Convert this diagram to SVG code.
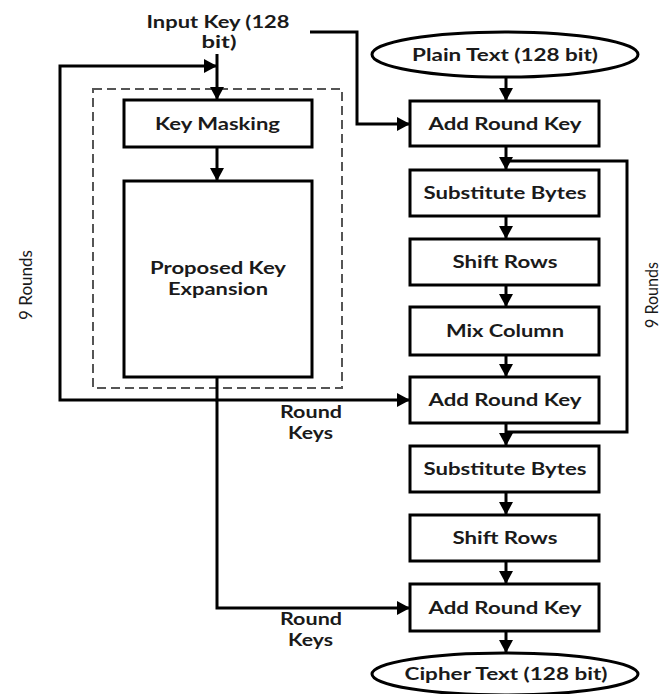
<svg xmlns="http://www.w3.org/2000/svg" width="663" height="694" viewBox="0 0 663 694">
<style>
.box{fill:#fff;stroke:#000;stroke-width:3}
.t{font-family:Lato,"Open Sans","Liberation Sans",sans-serif;font-weight:700;font-size:16.5px;fill:#1a1a1a;text-anchor:middle}
.r{font-family:Lato,"Open Sans","Liberation Sans",sans-serif;font-weight:400;font-size:18px;fill:#1a1a1a;text-anchor:middle}
.c{fill:none;stroke:#000;stroke-width:3}
.dash{fill:none;stroke:#555;stroke-width:2;stroke-dasharray:9 5}
</style>
<defs>
<marker id="ah" markerUnits="userSpaceOnUse" markerWidth="13" markerHeight="14" refX="12" refY="7" orient="auto">
<path d="M0,0 L13,7 L0,14 z" fill="#000"/>
</marker>
</defs>
<rect width="663" height="694" fill="#fff"/>
<rect class="dash" x="93" y="89" width="249" height="299"/>
<g id="connectors">
<path class="c" d="M217,54 V99" marker-end="url(#ah)"/>
<path class="c" d="M217,400 H60 V66 H216" marker-end="url(#ah)"/>
<path class="c" d="M217,147 V180" marker-end="url(#ah)"/>
<path class="c" d="M217,377 V400 H409" marker-end="url(#ah)"/>
<path class="c" d="M217,400 V608 H409" marker-end="url(#ah)"/>
<path class="c" d="M310,32 H357 V124 H409" marker-end="url(#ah)"/>
<path class="c" d="M506,77 V100" marker-end="url(#ah)"/>
<path class="c" d="M506,146 V169" marker-end="url(#ah)"/>
<path class="c" d="M506,161 H627 V432 H506"/>
<path class="c" d="M506,216 V238" marker-end="url(#ah)"/>
<path class="c" d="M506,285 V306" marker-end="url(#ah)"/>
<path class="c" d="M506,355 V376" marker-end="url(#ah)"/>
<path class="c" d="M506,423 V445" marker-end="url(#ah)"/>
<path class="c" d="M506,492 V514" marker-end="url(#ah)"/>
<path class="c" d="M506,561 V583" marker-end="url(#ah)"/>
<path class="c" d="M506,631 V652" marker-end="url(#ah)"/>
</g>
<g id="input-key"><text class="t"><tspan x="218" y="28" textLength="143" lengthAdjust="spacingAndGlyphs">Input Key (128</tspan><tspan x="219" y="48" textLength="35" lengthAdjust="spacingAndGlyphs">bit)</tspan></text></g>
<g id="key-masking"><rect class="box" x="124" y="100" width="188" height="47"/><text class="t" x="217.5" y="129.5" textLength="125" lengthAdjust="spacingAndGlyphs">Key Masking</text></g>
<g id="key-expansion"><rect class="box" x="124" y="181" width="188" height="196"/><text class="t"><tspan x="218" y="274" textLength="136" lengthAdjust="spacingAndGlyphs">Proposed Key</tspan><tspan x="218" y="295" textLength="100" lengthAdjust="spacingAndGlyphs">Expansion</tspan></text></g>
<g id="plain-text"><ellipse class="box" cx="505" cy="54.5" rx="133" ry="22.5"/><text class="t" x="505" y="61" textLength="186" lengthAdjust="spacingAndGlyphs">Plain Text (128 bit)</text></g>
<g id="ark1"><rect class="box" x="410" y="101" width="189" height="45"/><text class="t" x="505" y="129.5" textLength="153" lengthAdjust="spacingAndGlyphs">Add Round Key</text></g>
<g id="sb1"><rect class="box" x="410" y="170" width="189" height="46"/><text class="t" x="505" y="199" textLength="163" lengthAdjust="spacingAndGlyphs">Substitute Bytes</text></g>
<g id="sr1"><rect class="box" x="410" y="239" width="189" height="46"/><text class="t" x="505" y="268" textLength="105" lengthAdjust="spacingAndGlyphs">Shift Rows</text></g>
<g id="mc"><rect class="box" x="410" y="307" width="189" height="48"/><text class="t" x="505" y="337" textLength="118" lengthAdjust="spacingAndGlyphs">Mix Column</text></g>
<g id="ark2"><rect class="box" x="410" y="377" width="189" height="46"/><text class="t" x="505" y="406" textLength="153" lengthAdjust="spacingAndGlyphs">Add Round Key</text></g>
<g id="sb2"><rect class="box" x="410" y="446" width="189" height="46"/><text class="t" x="505" y="475" textLength="163" lengthAdjust="spacingAndGlyphs">Substitute Bytes</text></g>
<g id="sr2"><rect class="box" x="410" y="515" width="189" height="46"/><text class="t" x="505" y="544" textLength="105" lengthAdjust="spacingAndGlyphs">Shift Rows</text></g>
<g id="ark3"><rect class="box" x="410" y="584" width="189" height="47"/><text class="t" x="505" y="613.5" textLength="153" lengthAdjust="spacingAndGlyphs">Add Round Key</text></g>
<g id="cipher-text"><ellipse class="box" cx="505" cy="674" rx="133" ry="21"/><text class="t" x="506" y="680" textLength="203" lengthAdjust="spacingAndGlyphs">Cipher Text (128 bit)</text></g>
<g id="labels">
<text class="t"><tspan x="311" y="418" textLength="62" lengthAdjust="spacingAndGlyphs">Round</tspan><tspan x="310.5" y="438.5" textLength="45" lengthAdjust="spacingAndGlyphs">Keys</tspan></text>
<text class="t"><tspan x="311" y="625" textLength="62" lengthAdjust="spacingAndGlyphs">Round</tspan><tspan x="310.5" y="645.5" textLength="45" lengthAdjust="spacingAndGlyphs">Keys</tspan></text>
<text class="r" transform="translate(32,285) rotate(-90)" textLength="70" lengthAdjust="spacingAndGlyphs">9 Rounds</text>
<text class="r" transform="translate(658,295) rotate(-90)" textLength="66" lengthAdjust="spacingAndGlyphs">9 Rounds</text>
</g>
</svg>
